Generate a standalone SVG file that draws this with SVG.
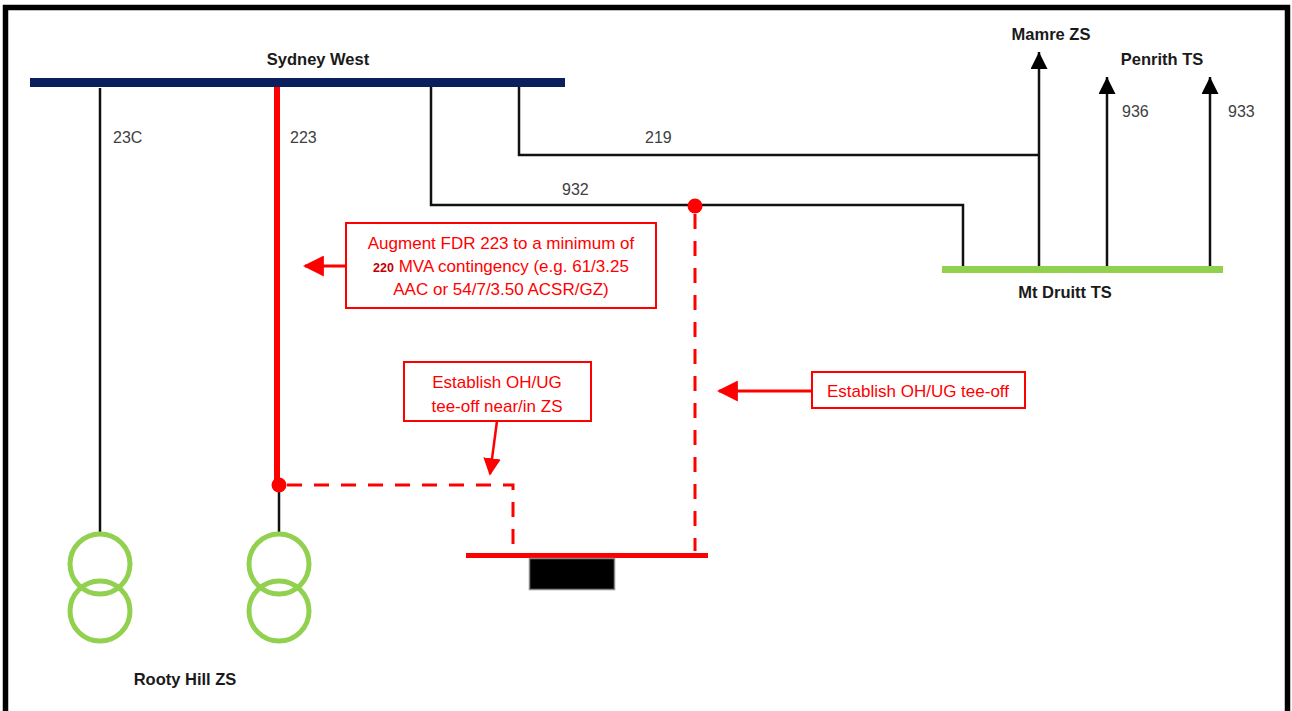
<svg xmlns="http://www.w3.org/2000/svg" width="1292" height="711" viewBox="0 0 1292 711">
<defs>
<style>
.lbl{font-family:"Liberation Sans",Arial,sans-serif;font-weight:bold;font-size:16.5px;fill:#1a1a1a;text-anchor:middle}
.num{font-family:"Liberation Sans",Arial,sans-serif;font-size:16px;fill:#404040}
.note{font-family:"Liberation Sans",Arial,sans-serif;font-size:17px;fill:#ff0000;text-anchor:middle}
.blk{stroke:#111;stroke-width:2.5;fill:none}
.red{stroke:#ff0000;fill:none}
.dash{stroke:#ff0000;stroke-width:3;stroke-dasharray:15 12;fill:none}
.box{fill:#fff;stroke:#ff0000;stroke-width:2}
.tx{fill:none;stroke:#92d050;stroke-width:5}
</style>
<marker id="ab" viewBox="0 0 10 10" refX="10" refY="5" markerWidth="17" markerHeight="17" markerUnits="userSpaceOnUse" orient="auto">
<path d="M0,0 L10,5 L0,10 z" fill="#000"/>
</marker>
<marker id="ar" viewBox="0 0 10 10" refX="9" refY="5" markerWidth="7" markerHeight="7" orient="auto">
<path d="M0,0 L10,5 L0,10 z" fill="#ff0000"/>
</marker>
</defs>
<rect width="1292" height="711" fill="#fff"/>
<rect x="5.5" y="7.5" width="1282" height="712" fill="none" stroke="#000" stroke-width="5.5"/>

<g id="connectors">
<line class="blk" x1="100" y1="88" x2="100" y2="533"/>
<line stroke="#ff0000" stroke-width="6" x1="277" y1="87" x2="277" y2="486"/>
<line class="blk" x1="279" y1="486" x2="279" y2="533"/>
<polyline class="blk" points="431,87 431,205 963,205 963,268"/>
<polyline class="blk" points="519,87 519,155 1039,155"/>
<line class="blk" x1="1039" y1="268" x2="1039" y2="52" marker-end="url(#ab)"/>
<line class="blk" x1="1107" y1="268" x2="1107" y2="77" marker-end="url(#ab)"/>
<line class="blk" x1="1210" y1="268" x2="1210" y2="77" marker-end="url(#ab)"/>
<polyline class="dash" points="287,485 513,485 513,553"/>
<line class="dash" x1="695" y1="214" x2="695" y2="551"/>
<line class="red" stroke-width="3" x1="346" y1="266" x2="305" y2="266" marker-end="url(#ar)"/>
<line class="red" stroke-width="2.5" x1="497" y1="421" x2="490" y2="474" marker-end="url(#ar)"/>
<line class="red" stroke-width="3" x1="812" y1="391" x2="719" y2="391" marker-end="url(#ar)"/>
<circle cx="279" cy="485" r="7.5" fill="#ff0000"/>
<circle cx="695" cy="206" r="7.5" fill="#ff0000"/>
</g>

<g id="sydney-west">
<rect x="30" y="78" width="535" height="9" fill="#0a1f5c"/>
<text class="lbl" x="318" y="65">Sydney West</text>
</g>

<g id="line-labels">
<text class="num" x="113" y="143">23C</text>
<text class="num" x="290" y="143">223</text>
<text class="num" x="645" y="143">219</text>
<text class="num" x="562" y="195">932</text>
<text class="num" x="1122" y="117">936</text>
<text class="num" x="1228" y="117">933</text>
</g>

<g id="mamre-zs">
<text class="lbl" x="1051" y="40">Mamre ZS</text>
</g>
<g id="penrith-ts">
<text class="lbl" x="1162" y="65">Penrith TS</text>
</g>

<g id="mt-druitt-ts">
<rect x="942" y="266" width="281" height="7" fill="#92d050"/>
<text class="lbl" x="1065" y="298">Mt Druitt TS</text>
</g>

<g id="rooty-hill-zs">
<circle class="tx" cx="100" cy="564" r="30"/>
<circle class="tx" cx="100" cy="611" r="30"/>
<circle class="tx" cx="279" cy="564" r="30"/>
<circle class="tx" cx="279" cy="611" r="30"/>
<text class="lbl" x="185" y="685">Rooty Hill ZS</text>
</g>

<g id="new-zs">
<line stroke="#ff0000" stroke-width="5" x1="466" y1="555.5" x2="708" y2="555.5"/>
<rect x="529.5" y="558.5" width="85" height="31" fill="#000" stroke="#888" stroke-width="1.5"/>
</g>

<g id="note-augment">
<rect class="box" x="346" y="223" width="310" height="85"/>
<text class="note" x="501" y="249">Augment FDR 223 to a minimum of</text>
<text class="note" x="501" y="272"><tspan font-size="12.5px" font-weight="bold" fill="#c00000">220</tspan> MVA contingency (e.g. 61/3.25</text>
<text class="note" x="501" y="295">AAC or 54/7/3.50 ACSR/GZ)</text>
</g>

<g id="note-teeoff-zs">
<rect class="box" x="404" y="362" width="187" height="59"/>
<text class="note" x="497" y="388">Establish OH/UG</text>
<text class="note" x="497" y="412">tee-off near/in ZS</text>
</g>

<g id="note-teeoff">
<rect class="box" x="812" y="372" width="213" height="36"/>
<text class="note" x="918" y="397">Establish OH/UG tee-off</text>
</g>
</svg>
